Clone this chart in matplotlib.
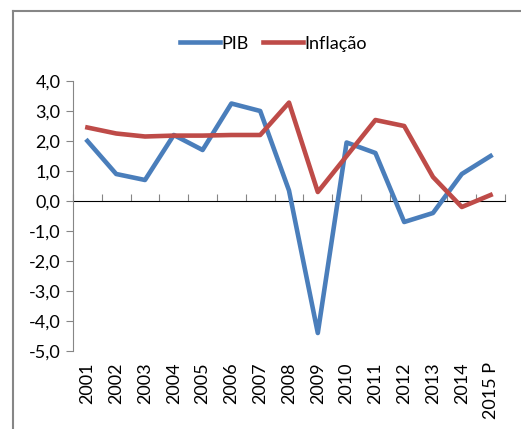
import matplotlib

matplotlib.use("Agg")
import matplotlib.pyplot as plt
from matplotlib.lines import Line2D
from matplotlib.ticker import FuncFormatter, FixedLocator, NullFormatter
import numpy as np

years = ["2001", "2002", "2003", "2004", "2005", "2006", "2007", "2008",
         "2009", "2010", "2011", "2012", "2013", "2014", "2015 P"]
pib = [2.0, 0.9, 0.7, 2.2, 1.7, 3.25, 3.0, 0.35, -4.4, 1.95, 1.6, -0.7, -0.4, 0.9, 1.5]
inflacao = [2.45, 2.25, 2.15, 2.18, 2.18, 2.2, 2.2, 3.28, 0.3, 1.5, 2.7, 2.5, 0.8, -0.2, 0.2]

BLUE = "#4a7ebb"
RED = "#be4b48"
GRID = "#868686"

plt.rcParams["font.family"] = ["Lato", "DejaVu Sans"]

fig = plt.figure(figsize=(5.21, 4.29), dpi=100)
# outer chart frame (left + top visible)
fig.add_artist(Line2D([12.5 / 521, 12.5 / 521], [0, 1 - 10.5 / 429],
                      transform=fig.transFigure, color=GRID, lw=1.5))
fig.add_artist(Line2D([12.5 / 521, 1], [1 - 10.5 / 429, 1 - 10.5 / 429],
                      transform=fig.transFigure, color=GRID, lw=1.5))

ax = fig.add_axes([73 / 521, 1 - 351 / 429, (505 - 73) / 521, (351 - 81) / 429])
x = np.arange(len(years))
ax.plot(x, pib, color=BLUE, lw=3.3, label="PIB")
ax.plot(x, inflacao, color=RED, lw=3.3, label="Inflação")

ax.set_xlim(-0.5, len(years) - 0.5)
ax.set_ylim(-5, 4)
ax.set_yticks(np.arange(-5, 5, 1))
ax.yaxis.set_major_formatter(FuncFormatter(lambda v, _: f"{v:.1f}".replace(".", ",")))
ax.tick_params(axis="y", direction="out", length=5, color=GRID, labelsize=13, pad=4)

for side in ("top", "right", "bottom"):
    ax.spines[side].set_visible(False)
ax.spines["left"].set_color(GRID)

ax.set_xticks(x)
ax.set_xticklabels(years, rotation=90, fontsize=13)
ax.tick_params(axis="x", length=0, pad=8)

# category axis crossing at zero, tick marks between categories
sec = ax.secondary_xaxis(5 / 9)
sec.spines["bottom"].set_color(GRID)
sec.xaxis.set_major_locator(FixedLocator(np.arange(-0.5, len(years), 1)))
sec.xaxis.set_major_formatter(NullFormatter())
sec.tick_params(axis="x", direction="out", length=5, color=GRID)

fig.legend(loc="upper center", bbox_to_anchor=(0.525, 0.955), ncol=2, frameon=False,
           fontsize=13, handlelength=2.2, handletextpad=0.1, columnspacing=0.8)

fig.savefig("out.png", dpi=100)
